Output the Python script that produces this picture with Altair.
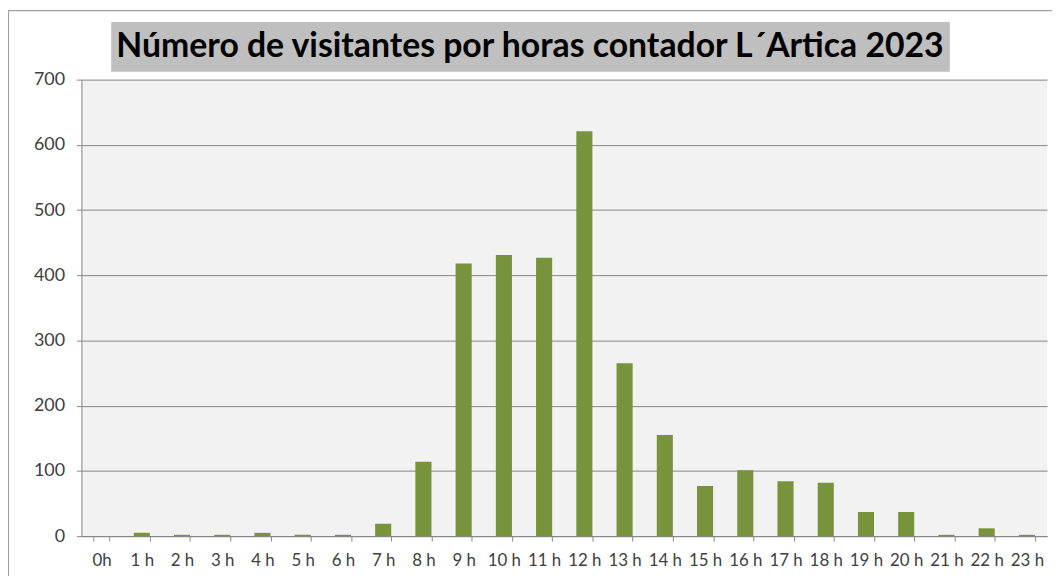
import altair as alt
import pandas as pd

hours = ["0h", "1 h", "2 h", "3 h", "4 h", "5 h", "6 h", "7 h", "8 h", "9 h", "10 h", "11 h",
         "12 h", "13 h", "14 h", "15 h", "16 h", "17 h", "18 h", "19 h", "20 h", "21 h", "22 h", "23 h"]
visitors = [0, 5, 2, 2, 5, 2, 2, 19, 114, 418, 431, 427,
            621, 265, 155, 77, 101, 84, 82, 37, 37, 2, 12, 2]
title_text = "Número de visitantes por horas contador L´Artica 2023"
y_ticks = [0, 100, 200, 300, 400, 500, 600, 700]

df = pd.DataFrame({"hora": hours, "visitantes": visitors})
one = alt.Data(values=[{"t": title_text}])

W, H = 973, 460
GRID = "#868686"
TXT = "#404040"

bars = alt.Chart(df).mark_bar(color="#77933C").encode(
    x=alt.X("hora:N", sort=hours, title=None,
            scale=alt.Scale(paddingInner=0.6, paddingOuter=0.3),
            axis=alt.Axis(labelAngle=0, tickBand="extent", tickSize=5, tickColor=GRID,
                          domainColor=GRID, labelFont="Lato", labelFontSize=17,
                          labelColor=TXT, labelPadding=12, grid=False)),
    y=alt.Y("visitantes:Q", title=None,
            scale=alt.Scale(domain=[0, 700], nice=False),
            axis=alt.Axis(values=y_ticks, tickSize=5, tickColor=GRID, domainColor=GRID,
                          gridColor=GRID, gridWidth=1, labelFont="Lato", labelFontSize=18,
                          labelColor=TXT, labelPadding=12)),
)

frame = alt.Chart(one).mark_rect(fill="transparent", stroke="#a0a0a0", strokeWidth=1.2).encode(
    x=alt.value(-73.5), x2=alt.value(1000), y=alt.value(-69.5), y2=alt.value(600)
)

title_box = alt.Chart(one).mark_rect(fill="#bfbfbf").encode(
    x=alt.value(30), x2=alt.value(875), y=alt.value(-58), y2=alt.value(-8)
)

title = alt.Chart(one).mark_text(font="Lato", fontWeight="bold", fontSize=34,
                                 color="#000000", align="center", baseline="middle").encode(
    x=alt.value(452), y=alt.value(-33), text="t:N"
)

chart = alt.layer(title_box, title, bars, frame).properties(
    width=W, height=H,
    autosize=alt.AutoSizeParams(type="none"),
    padding={"left": 74, "top": 70, "right": 5, "bottom": 38},
    background="white",
).configure_view(fill="#f2f2f2", stroke=None)

chart.save("out.html", embed_options={"renderer": "svg", "actions": False})
